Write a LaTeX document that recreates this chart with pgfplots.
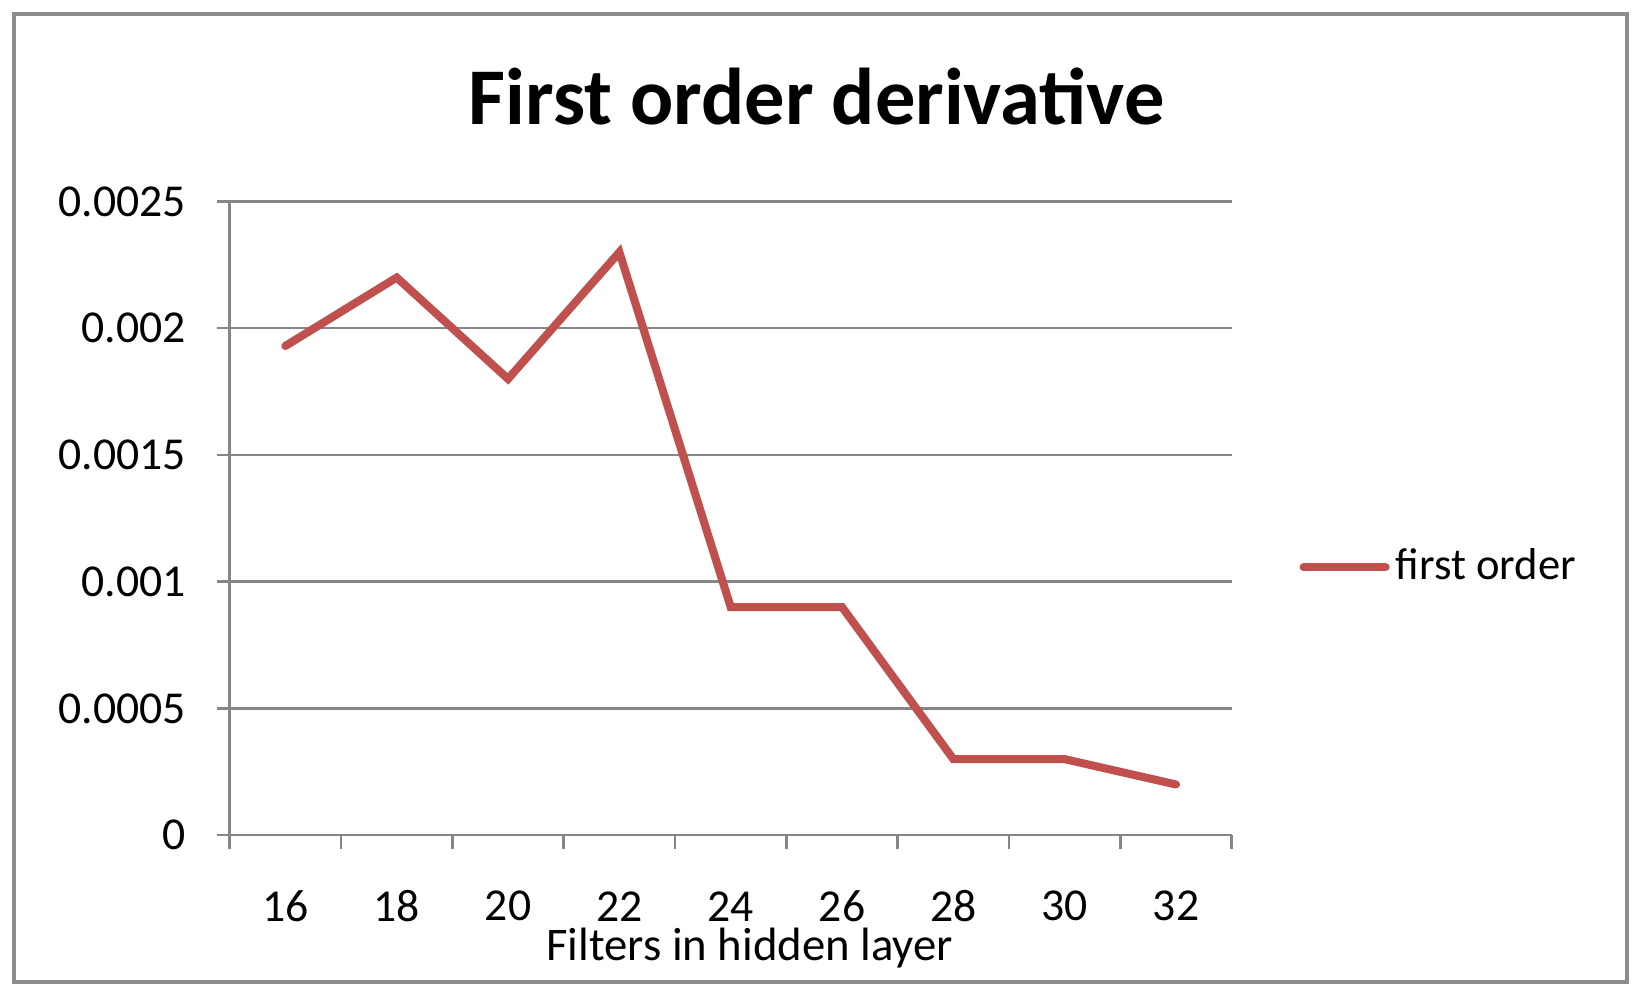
\documentclass[border=0pt]{standalone}
\usepackage{pgfplots}
\pgfplotsset{compat=1.18}
\usepackage{fontspec}
\setmainfont{Carlito}
\definecolor{ser}{HTML}{C0504D}
\definecolor{gridc}{HTML}{868686}
\definecolor{framec}{HTML}{8C8C8C}
\begin{document}
\begin{tikzpicture}
\useasboundingbox (-2.297,-1.618) rectangle (14.073,8.352);
\draw[framec, line width=0.9pt] (-2.157,-1.468) rectangle (13.973,8.212);
\begin{axis}[
  at={(0,0)}, anchor=south west, scale only axis,
  width=10.02cm, height=6.337cm,
  xmin=-0.5, xmax=8.5, ymin=0, ymax=0.0025,
  axis x line*=bottom, axis y line*=left,
  axis line style={gridc, line width=0.7pt, -},
  tick align=outside,
  scaled y ticks=false,
  xtick={0,1,2,3,4,5,6,7,8},
  xticklabels={16,18,20,22,24,26,28,30,32},
  minor xtick={-0.5,0.5,1.5,2.5,3.5,4.5,5.5,6.5,7.5,8.5},
  major x tick style={draw=none},
  minor tick length=0.14cm,
  minor x tick style={gridc, line width=0.7pt},
  ytick={0,0.0005,0.001,0.0015,0.002,0.0025},
  yticklabels={0,0.0005,0.001,0.0015,0.002,0.0025},
  major tick length=0.13cm,
  major y tick style={gridc, line width=0.7pt},
  ymajorgrids,
  major grid style={gridc, line width=0.7pt},
  tick label style={font=\fontsize{13}{15}\selectfont, text=black},
  xticklabel style={anchor=center, inner sep=0pt, yshift=-0.58cm},
  yticklabel style={anchor=east, inner sep=0pt, xshift=-0.3cm},
  xlabel={Filters in hidden layer},
  xlabel style={at={(axis description cs:0.519,-0.178)}, anchor=center, inner sep=0pt, font=\fontsize{13.3}{15}\selectfont},
  title={First order derivative},
  title style={at={(axis description cs:0.586,1.133)}, anchor=center, font=\bfseries\fontsize{22.9}{27}\selectfont},
  legend style={at={(axis description cs:1.067,0.423)}, anchor=west, draw=none, fill=none, inner sep=0pt,
    font=\fontsize{12.7}{15}\selectfont, nodes={inner sep=1.8pt}},
  legend image code/.code={\draw[#1] (0cm,0cm) -- (0.82cm,0cm);},
]
\addplot[ser, line width=2.3pt, line cap=round] coordinates {
  (0,0.00193) (1,0.0022) (2,0.0018) (3,0.0023) (4,0.0009)
  (5,0.0009) (6,0.0003) (7,0.0003) (8,0.0002)
};
\addlegendentry{first order}
\end{axis}
\end{tikzpicture}
\end{document}
